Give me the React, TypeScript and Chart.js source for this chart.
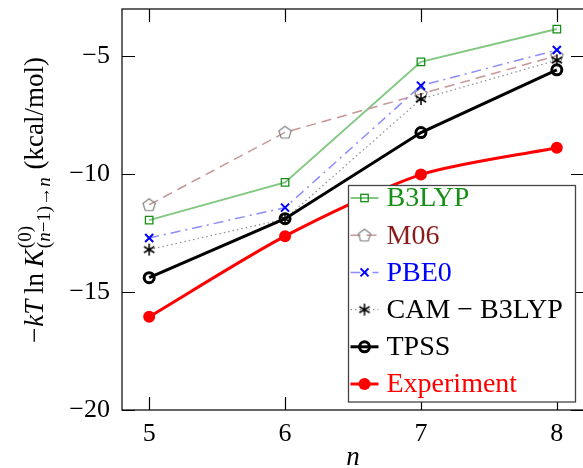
import React, { useEffect, useRef } from 'react';
import { Chart, registerables } from 'chart.js';

Chart.register(...registerables);

const nValues = [5, 6, 7, 8];
const b3lyp = [-11.95, -10.35, -5.24, -3.85];
const m06 = [-11.3, -8.23, -6.6, -4.98];
const pbe0 = [-12.71, -11.42, -6.25, -4.74];
const camB3lyp = [-13.2, -11.9, -6.82, -5.17];
const tpss = [-14.39, -11.89, -8.24, -5.58];
const experiment = [-16.05, -12.63, -10.02, -8.88];
const yTicks = [-5, -10, -15, -20];
const seriesLabels = ['B3LYP', 'M06', 'PBE0', 'CAM − B3LYP', 'TPSS', 'Experiment'];
const labelColors = ['#178f17', '#8b1c1c', '#0000ff', '#000000', '#000000', '#ff0000'];

const SERIF = "'Liberation Serif', 'DejaVu Serif', serif";

function makePentagon(): HTMLCanvasElement {
  const c = document.createElement('canvas');
  c.width = 18; c.height = 18;
  const g = c.getContext('2d')!;
  g.strokeStyle = '#808080';
  g.lineWidth = 1.2;
  g.beginPath();
  for (let k = 0; k < 5; k++) {
    const a = -Math.PI / 2 + (k * 2 * Math.PI) / 5;
    const x = 9 + 6.5 * Math.cos(a);
    const y = 9.5 + 6.5 * Math.sin(a);
    if (k === 0) g.moveTo(x, y); else g.lineTo(x, y);
  }
  g.closePath();
  g.stroke();
  return c;
}

function makeAsterisk(): HTMLCanvasElement {
  const c = document.createElement('canvas');
  c.width = 16; c.height = 16;
  const g = c.getContext('2d')!;
  g.strokeStyle = '#000';
  g.lineWidth = 1.5;
  g.beginPath();
  for (let k = 0; k < 3; k++) {
    const a = Math.PI / 2 + (k * Math.PI) / 3;
    const dx = 6 * Math.cos(a), dy = 6 * Math.sin(a);
    g.moveTo(8 - dx, 8 - dy);
    g.lineTo(8 + dx, 8 + dy);
  }
  g.stroke();
  return c;
}

function drawMarker(ctx: CanvasRenderingContext2D, kind: number, x: number, y: number, pent: HTMLCanvasElement, ast: HTMLCanvasElement) {
  ctx.save();
  if (kind === 0) {
    ctx.strokeStyle = '#178f17'; ctx.lineWidth = 1.3;
    ctx.strokeRect(x - 3.7, y - 3.7, 7.4, 7.4);
  } else if (kind === 1) {
    ctx.drawImage(pent, x - 9, y - 9);
  } else if (kind === 2) {
    ctx.strokeStyle = '#0000ff'; ctx.lineWidth = 2;
    ctx.beginPath();
    ctx.moveTo(x - 4, y - 4); ctx.lineTo(x + 4, y + 4);
    ctx.moveTo(x - 4, y + 4); ctx.lineTo(x + 4, y - 4);
    ctx.stroke();
  } else if (kind === 3) {
    ctx.drawImage(ast, x - 8, y - 8);
  } else if (kind === 4) {
    ctx.strokeStyle = '#000'; ctx.lineWidth = 3;
    ctx.beginPath(); ctx.arc(x, y, 5, 0, Math.PI * 2); ctx.stroke();
  } else {
    ctx.fillStyle = '#ff0000';
    ctx.beginPath(); ctx.arc(x, y, 6, 0, Math.PI * 2); ctx.fill();
  }
  ctx.restore();
}

export default function App() {
  const ref = useRef<HTMLCanvasElement>(null);

  useEffect(() => {
    const canvas = ref.current!;
    const pent = makePentagon();
    const ast = makeAsterisk();
    const toPts = (arr: number[]) => arr.map((v, i) => ({ x: nValues[i], y: v }));

    const framePlugin = {
      id: 'framePlugin',
      afterDraw(chart: any) {
        const { ctx, chartArea: a, scales } = chart;
        ctx.save();
        // frame
        ctx.strokeStyle = '#000';
        ctx.lineWidth = 1.2;
        ctx.strokeRect(a.left, a.top, a.right - a.left, a.bottom - a.top);
        ctx.beginPath();
        nValues.forEach((v) => {
          const x = Math.round(scales.x.getPixelForValue(v)) + 0.5;
          ctx.moveTo(x, a.bottom); ctx.lineTo(x, a.bottom - 13);
          ctx.moveTo(x, a.top); ctx.lineTo(x, a.top + 13);
        });
        yTicks.forEach((v) => {
          const y = Math.round(scales.y.getPixelForValue(v)) + 0.5;
          ctx.moveTo(a.left, y); ctx.lineTo(a.left + 13, y);
          ctx.moveTo(a.right, y); ctx.lineTo(a.right - 13, y);
        });
        ctx.stroke();

        // x axis title
        ctx.fillStyle = '#000';
        ctx.font = `italic 27px ${SERIF}`;
        ctx.textAlign = 'center';
        ctx.textBaseline = 'alphabetic';
        ctx.fillText('n', (a.left + a.right) / 2, 465);

        // y axis title (rotated)
        const main = `27px ${SERIF}`;
        const it = `italic 27px ${SERIF}`;
        const sm = `19px ${SERIF}`;
        const smIt = `italic 19px ${SERIF}`;
        const w = (t: string, f: string) => { ctx.font = f; return ctx.measureText(t).width; };
        const pre: [string, string, number][] = [
          ['−', main, 1], ['kT', it, 0], [' ', main, -1], ['ln', main, 0], [' ', main, -1], ['K', it, 1],
        ];
        const sup: [string, string][] = [['(0)', sm]];
        const sub: [string, string][] = [['(', sm], ['n', smIt], ['−1)→', sm], ['n', smIt]];
        const post: [string, string][] = [[' (kcal/mol)', main]];
        let preW = 0; pre.forEach(([t, f, adj]) => { preW += w(t, f) + adj; });
        let supW = 0; sup.forEach(([t, f]) => { supW += w(t, f); });
        let subW = 0; sub.forEach(([t, f]) => { subW += w(t, f); });
        const scrW = Math.max(supW, subW) + 1;
        let postW = 0; post.forEach(([t, f]) => { postW += w(t, f); });
        const total = preW + scrW + postW;
        ctx.translate(43, 200);
        ctx.rotate(-Math.PI / 2);
        ctx.textAlign = 'left';
        let u = -total / 2;
        pre.forEach(([t, f, adj]) => { ctx.font = f; ctx.fillText(t, u, 0); u += ctx.measureText(t).width + adj; });
        let us = u;
        sup.forEach(([t, f]) => { ctx.font = f; ctx.fillText(t, us, -12); us += ctx.measureText(t).width; });
        us = u;
        sub.forEach(([t, f]) => { ctx.font = f; ctx.fillText(t, us, 7); us += ctx.measureText(t).width; });
        u += scrW;
        post.forEach(([t, f]) => { ctx.font = f; ctx.fillText(t, u, 0); u += ctx.measureText(t).width; });
        ctx.setTransform(1, 0, 0, 1, 0, 0);

        // legend
        const lx = 348.5, ly = 185.5, lw = 227, lh = 216.5;
        ctx.fillStyle = '#fff';
        ctx.fillRect(lx, ly, lw, lh);
        ctx.strokeStyle = '#444';
        ctx.lineWidth = 1.3;
        ctx.strokeRect(lx, ly, lw, lh);
        chart.data.datasets.forEach((ds: any, i: number) => {
          const yy = 198 + i * 37.2;
          ctx.save();
          ctx.strokeStyle = ds.borderColor;
          ctx.lineWidth = ds.borderWidth;
          ctx.setLineDash(ds.borderDash || []);
          ctx.beginPath();
          ctx.moveTo(lx + 2, yy); ctx.lineTo(lx + 30, yy);
          ctx.stroke();
          ctx.restore();
          drawMarker(ctx, i, lx + 16, yy, pent, ast);
          ctx.fillStyle = labelColors[i];
          ctx.font = `28px ${SERIF}`;
          ctx.textAlign = 'left';
          ctx.textBaseline = 'middle';
          ctx.fillText(ds.label, lx + 38, yy + 1);
        });
        ctx.restore();
      },
    };

    const chart = new Chart(canvas, {
      type: 'line',
      data: {
        datasets: [
          {
            label: seriesLabels[0], data: toPts(b3lyp), order: 6,
            borderColor: 'rgb(130,200,130)', borderWidth: 2, tension: 0,
            pointStyle: 'rect', pointRadius: 5.3, pointBorderColor: '#178f17',
            pointBackgroundColor: 'rgba(0,0,0,0)', pointBorderWidth: 1.3,
          },
          {
            label: seriesLabels[1], data: toPts(m06), order: 5,
            borderColor: 'rgb(200,150,150)', borderWidth: 1.5, borderDash: [10, 6], tension: 0,
            pointStyle: pent as any, pointRadius: 7,
          },
          {
            label: seriesLabels[2], data: toPts(pbe0), order: 4,
            borderColor: 'rgb(140,140,255)', borderWidth: 1.5, borderDash: [10, 5, 2, 5], tension: 0,
            pointStyle: 'crossRot', pointRadius: 5.7, pointBorderColor: '#0000ff', pointBorderWidth: 2,
          },
          {
            label: seriesLabels[3], data: toPts(camB3lyp), order: 3,
            borderColor: 'rgb(150,150,150)', borderWidth: 1.3, borderDash: [1.5, 3], tension: 0,
            pointStyle: ast as any, pointRadius: 7,
          },
          {
            label: seriesLabels[4], data: toPts(tpss), order: 2,
            borderColor: '#000', borderWidth: 3, tension: 0,
            pointStyle: 'circle', pointRadius: 5, pointBorderColor: '#000',
            pointBackgroundColor: 'rgba(0,0,0,0)', pointBorderWidth: 3,
          },
          {
            label: seriesLabels[5], data: toPts(experiment), order: 1,
            borderColor: '#ff0000', borderWidth: 3, tension: 0.25, cubicInterpolationMode: 'default',
            pointStyle: 'circle', pointRadius: 6, pointBorderColor: '#ff0000',
            pointBackgroundColor: '#ff0000', pointBorderWidth: 0,
          },
        ] as any,
      },
      options: {
        animation: false,
        responsive: false,
        maintainAspectRatio: false,
        layout: { padding: { left: 0, top: 9, right: 16, bottom: 0 } },
        plugins: { legend: { display: false }, tooltip: { enabled: false } },
        scales: {
          x: {
            type: 'linear', min: 4.8, max: 8.2,
            grid: { display: false, drawTicks: false },
            border: { display: false },
            afterBuildTicks: (s: any) => { s.ticks = nValues.map((v) => ({ value: v })); },
            afterFit: (s: any) => { s.height = 58; s.paddingLeft = 0; s.paddingRight = 0; },
            ticks: {
              padding: 9, color: '#000', font: { family: SERIF, size: 26 },
              callback: (v: any) => String(v), maxRotation: 0, autoSkip: false,
            },
          },
          y: {
            type: 'linear', min: -20, max: -3,
            grid: { display: false, drawTicks: false },
            border: { display: false },
            afterBuildTicks: (s: any) => { s.ticks = yTicks.map((v) => ({ value: v })); },
            afterFit: (s: any) => { s.width = 122; s.paddingTop = 0; s.paddingBottom = 0; },
            ticks: {
              padding: 12, color: '#000', font: { family: SERIF, size: 26 },
              callback: (v: any) => (v < 0 ? '−' + Math.abs(v) : String(v)),
            },
          },
        },
      } as any,
      plugins: [framePlugin],
    });
    return () => chart.destroy();
  }, []);

  return (
    <div style={{ position: 'absolute', left: 0, top: 0, width: 583, height: 468, overflow: 'hidden', background: '#fff' }}>
      <canvas ref={ref} width={600} height={468} style={{ display: 'block' }} />
    </div>
  );
}
